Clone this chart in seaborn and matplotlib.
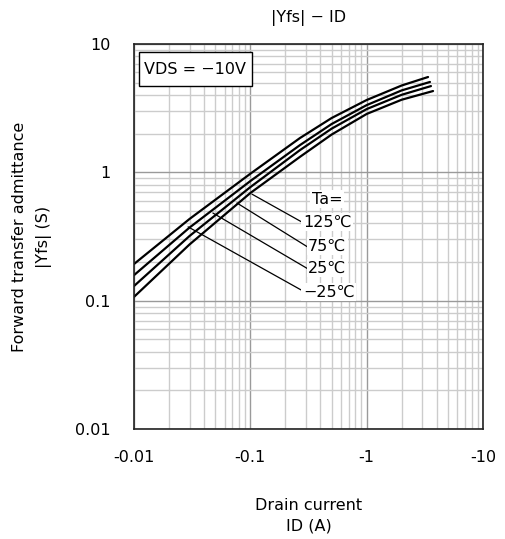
import numpy as np
import pandas as pd
import matplotlib
matplotlib.use("Agg")
import matplotlib.pyplot as plt
from matplotlib.patches import Rectangle
from matplotlib.ticker import FixedLocator, FixedFormatter, LogLocator, NullFormatter
import seaborn as sns

# ---- data ----
temps = ["-25℃", "25℃", "75℃", "125℃"]   # top curve to bottom curve
id_m25 = [0.01, 0.03, 0.1, 0.267, 0.5, 1.0, 2.0, 3.37]
yfs_m25 = [0.193, 0.433, 0.975, 1.85, 2.65, 3.66, 4.75, 5.53]
id_25 = [0.01, 0.03, 0.1, 0.267, 0.5, 1.0, 2.0, 3.50]
yfs_25 = [0.158, 0.371, 0.855, 1.63, 2.38, 3.34, 4.35, 5.06]
id_75 = [0.01, 0.03, 0.1, 0.267, 0.5, 1.0, 2.0, 3.57]
yfs_75 = [0.130, 0.319, 0.767, 1.49, 2.19, 3.11, 4.02, 4.70]
id_125 = [0.01, 0.03, 0.1, 0.267, 0.5, 1.0, 2.0, 3.72]
yfs_125 = [0.107, 0.274, 0.690, 1.32, 1.97, 2.85, 3.68, 4.30]

x_ticks = [0.01, 0.1, 1, 10]
x_ticklabels = ["-0.01", "-0.1", "-1", "-10"]
y_ticks = [0.01, 0.1, 1, 10]
y_ticklabels = ["0.01", "0.1", "1", "10"]

title = "|Yfs| − ID"
xlabel = "Drain current\nID (A)"
ylabel = "Forward transfer admittance\n|Yfs| (S)"
cond_text = "VDS = −10V"
legend_labels = ["Ta=", "125℃", "75℃", "25℃", "−25℃"]

frames = []
for t, xs, ys in zip(temps, [id_m25, id_25, id_75, id_125],
                     [yfs_m25, yfs_25, yfs_75, yfs_125]):
    frames.append(pd.DataFrame({"ID": xs, "Yfs": ys, "Ta": t}))
df = pd.concat(frames, ignore_index=True)

sns.set_style("white")
plt.rcParams["font.family"] = ["DejaVu Sans", "Noto Sans CJK JP"]
plt.rcParams["axes.unicode_minus"] = False
for k in ["text.color", "axes.labelcolor", "xtick.color", "ytick.color"]:
    plt.rcParams[k] = "black"

FS = 11.5
fig = plt.figure(figsize=(5.05, 5.39), dpi=100)
ax = fig.add_axes([134 / 505, 1 - 429 / 539, 349 / 505, 385 / 539])

sns.lineplot(data=df, x="ID", y="Yfs", hue="Ta", palette=["black"] * 4,
             estimator=None, sort=True, legend=False, linewidth=1.6, ax=ax)

ax.set_xscale("log")
ax.set_yscale("log")
ax.set_xlim(0.01, 10)
ax.set_ylim(0.01, 10)

ax.xaxis.set_major_locator(FixedLocator(x_ticks))
ax.xaxis.set_major_formatter(FixedFormatter(x_ticklabels))
ax.yaxis.set_major_locator(FixedLocator(y_ticks))
ax.yaxis.set_major_formatter(FixedFormatter(y_ticklabels))
ax.xaxis.set_minor_locator(LogLocator(base=10, subs=np.arange(2, 10)))
ax.yaxis.set_minor_locator(LogLocator(base=10, subs=np.arange(2, 10)))
ax.xaxis.set_minor_formatter(NullFormatter())
ax.yaxis.set_minor_formatter(NullFormatter())

ax.grid(True, which="major", color="#9a9a9a", linewidth=1.0)
ax.grid(True, which="minor", color="#cccccc", linewidth=1.0)
ax.set_axisbelow(True)
ax.tick_params(which="both", length=0, colors="black")
ax.tick_params(axis="x", pad=15, labelsize=FS)
ax.tick_params(axis="y", pad=17, labelsize=FS)
for s in ax.spines.values():
    s.set_color("#222222")
    s.set_linewidth(1.2)

ax.text(0.5, 1.0675, title, transform=ax.transAxes, ha="center", va="center",
        fontsize=FS, color="black")
ax.set_xlabel(xlabel, fontsize=FS, linespacing=1.45, va="center", color="black")
ax.xaxis.set_label_coords(0.5, -0.226)
ax.set_ylabel(ylabel, fontsize=FS, linespacing=1.75, va="center", color="black")
ax.yaxis.set_label_coords(-0.293, 0.5)

# condition box
ax.add_patch(Rectangle((0.015, 0.891), 0.322, 0.089, transform=ax.transAxes,
                       facecolor="white", edgecolor="black", linewidth=1.0, zorder=5))
ax.text(0.176, 0.935, cond_text, transform=ax.transAxes, ha="center", va="center",
        fontsize=FS, zorder=6, color="black")

# leader lines (axes fraction)
leaders = [((0.338, 0.610), (0.490, 0.533)),
           ((0.295, 0.587), (0.499, 0.472)),
           ((0.226, 0.561), (0.502, 0.414)),
           ((0.155, 0.525), (0.487, 0.357))]
for (x0, y0), (x1, y1) in leaders:
    ax.plot([x0, x1], [y0, y1], transform=ax.transAxes, color="black",
            linewidth=0.9, zorder=4)

lab_pos = [(0.553, 0.597, "center"), (0.484, 0.538, "left"), (0.499, 0.475, "left"),
           (0.499, 0.418, "left"), (0.484, 0.356, "left")]
for (x, y, ha), s in zip(lab_pos, legend_labels):
    ax.text(x, y, s, transform=ax.transAxes, ha=ha, va="center", fontsize=FS,
            zorder=6, color="black",
            bbox=dict(facecolor="white", edgecolor="none", pad=1.0))

fig.savefig("out.png", dpi=100)
